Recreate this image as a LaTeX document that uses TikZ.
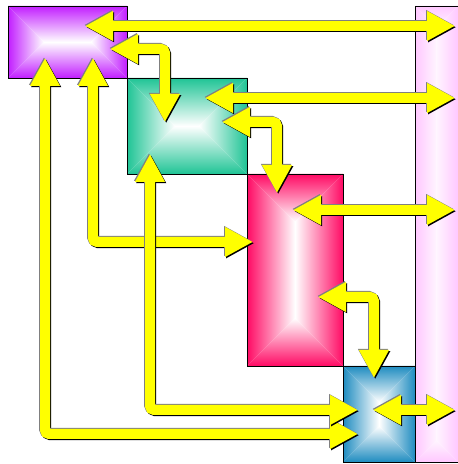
\documentclass[tikz,border=0pt]{standalone}
\usetikzlibrary{arrows.meta,positioning,calc,backgrounds}

\definecolor{violetbox}{HTML}{C21EFF}
\definecolor{tealbox}{HTML}{1FC495}
\definecolor{rosebox}{HTML}{FF0A64}
\definecolor{azurebox}{HTML}{1F8CC0}
\definecolor{barpink}{HTML}{FFC8FF}
\definecolor{arrowfill}{HTML}{FFFF00}
\definecolor{arrowedge}{HTML}{808080}

% four-sided gradient: edge colour fading inwards along the diagonals
% [inner colour]{node}{edge colour}{depth}
\newcommand\bevel[4][white]{%
  \shade[top color=#3,middle color=#3!55!#1,bottom color=#1]
    (#2.north west) -- (#2.north east)
    -- ([shift={(-#4,-#4)}]#2.north east) -- ([shift={(#4,-#4)}]#2.north west) -- cycle;
  \shade[bottom color=#3,middle color=#3!55!#1,top color=#1]
    (#2.south west) -- (#2.south east)
    -- ([shift={(-#4,#4)}]#2.south east) -- ([shift={(#4,#4)}]#2.south west) -- cycle;
  \shade[left color=#3,middle color=#3!55!#1,right color=#1]
    (#2.north west) -- ([shift={(#4,-#4)}]#2.north west)
    -- ([shift={(#4,#4)}]#2.south west) -- (#2.south west) -- cycle;
  \shade[right color=#3,middle color=#3!55!#1,left color=#1]
    (#2.north east) -- ([shift={(-#4,-#4)}]#2.north east)
    -- ([shift={(-#4,#4)}]#2.south east) -- (#2.south east) -- cycle;}

% thick yellow double arrow, dark edge below right, grey edge above left
\newcommand\fatarrow[1]{%
  \draw[fat,draw=black,transform canvas={shift={(1.2pt,-1.2pt)}}] #1;
  \draw[fat,draw=arrowedge,transform canvas={shift={(-1pt,1pt)}}] #1;
  \draw[fat,draw=arrowfill] #1;}

\begin{document}
\begin{tikzpicture}[x=1pt,y=1pt,
    box/.style={draw=black,line width=0.8pt,inner sep=0pt,outer sep=0pt,
                anchor=north west},
    fat/.style={line width=10pt,rounded corners=4pt,
                >={Triangle[length=28pt,width=28pt]},<->}]
  \useasboundingbox (0,0) rectangle (458,464);

  % cascade of blocks, corner to corner
  \node[box,minimum width=119pt,minimum height=72pt] (violet) at (8,458) {};
  \node[box,minimum width=120pt,minimum height=96pt] (teal) at (violet.south east) {};
  \node[box,minimum width=96pt,minimum height=192pt] (rose) at (teal.south east) {};
  \node[box,minimum width=72pt,minimum height=96pt] (azure) at (rose.south east) {};
  \node[box,draw=none,minimum width=43pt,minimum height=456pt] (bar)
    at (azure.north east |- violet.north) {};
  \draw[line width=0.8pt] (bar.north east) -- (bar.north west)
    -- (bar.south west) -- (bar.south east);

  \begin{scope}[on background layer]
    \bevel{violet}{violetbox}{36}
    \bevel{teal}{tealbox}{48}
    \bevel{rose}{rosebox}{48}
    \bevel{azure}{azurebox}{36}
    \bevel[barpink!20!white]{bar}{barpink}{21.5}
  \end{scope}

  % arrow ends
  \coordinate (bartip) at ([xshift=40pt]bar.west);
  \coordinate (v1) at ([shift={(-42,-20)}]violet.north east);
  \coordinate (v2) at ([shift={(-17,-43)}]violet.north east);
  \coordinate (t2) at ([shift={(38,-44)}]teal.north west);
  \coordinate (t1) at ([shift={(-42,-20)}]teal.north east);
  \coordinate (t3) at ([shift={(-25,-44)}]teal.north east);
  \coordinate (r3) at ([shift={(30,-19)}]rose.north west);
  \coordinate (r1) at ([shift={(46,-36)}]rose.north west);
  \coordinate (r4) at ([shift={(-25,69)}]rose.south east);
  \coordinate (a4) at ([shift={(31,-12)}]azure.north west);
  \coordinate (a1) at ([shift={(-6,4)}]azure.center);
  \coordinate (v8) at ([shift={(85,20)}]violet.south west);
  \coordinate (r8) at ([shift={(6,28)}]rose.west);
  \coordinate (v9) at ([shift={(37,20)}]violet.south west);
  \coordinate (a9) at ([shift={(15,28)}]azure.south west);
  \coordinate (t10) at ([shift={(23,20)}]teal.south west);
  \coordinate (a10) at ([shift={(15,52)}]azure.south west);

  % links to the bar
  \fatarrow{(v1) -- (v1 -| bartip)}
  \fatarrow{(t1) -- (t1 -| bartip)}
  \fatarrow{(r1) -- (r1 -| bartip)}
  \fatarrow{(a1) -- (a1 -| bartip)}
  % links down the cascade
  \fatarrow{(v2) -| (t2)}
  \fatarrow{(t3) -| (r3)}
  \fatarrow{(r4) -| (a4)}
  % long feedback loops
  \fatarrow{(v8) |- (r8)}
  \fatarrow{(v9) |- (a9)}
  \fatarrow{(t10) |- (a10)}
\end{tikzpicture}
\end{document}
